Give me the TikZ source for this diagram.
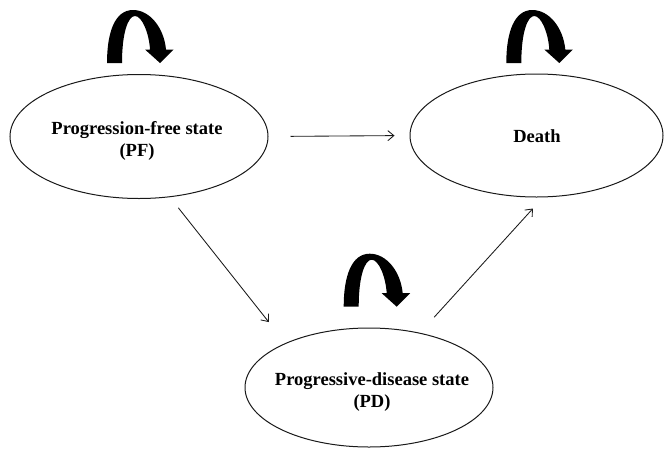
\documentclass[tikz,border=0pt]{standalone}
\usepackage{fontspec}
\setmainfont{Liberation Serif}
\usetikzlibrary{shapes.geometric,arrows.meta}
\begin{document}
\begin{tikzpicture}[x=1pt,y=-1pt,
  state/.style={draw=black!90,line width=1pt,ellipse,inner sep=0pt},
  txt/.style={font=\fontsize{18.5}{22}\selectfont\bfseries,align=center,inner sep=0pt},
  conn/.style={-{Straight Barb[length=6pt,width=10pt]},line width=0.85pt,draw=black!90},
  selfloop/.pic={\fill[black] (-53,0) .. controls (-53,-31) and (-45,-53) .. (-27,-53)
      .. controls (-10,-53) and (4,-35) .. (6,-13.5) -- (13.5,-13.5) -- (0,0) -- (-15,-13.5) -- (-10,-13.5)
      .. controls (-11,-30) and (-18,-47) .. (-25,-47)
      .. controls (-32,-47) and (-38,-30) .. (-38,0) -- cycle;}
]
\useasboundingbox (0,0) rectangle (664,450);
\node[state,minimum width=258pt,minimum height=124pt] (PF) at (139,136.5) {};
\node[state,minimum width=253pt,minimum height=123pt] (D) at (536.5,135.5) {};
\node[state,minimum width=248pt,minimum height=119pt] (PD) at (369,387.5) {};
\node[txt] (PFt) at (137,141) {Progression-free state\\(PF)};
\node[txt] (Dt) at (537,136) {Death};
\node[txt] (PDt) at (372,392) {Progressive-disease state\\(PD)};
\draw[conn,shorten <=22pt,shorten >=15pt] (PF.east) -- (D.west);
\draw[conn,shorten <=13.6pt,shorten >=26.8pt] (PF.-63) -- (PD.152.5);
\draw[conn,shorten <=21pt,shorten >=15pt] (PD.47.6) -- (D.-84);
\pic at (160,63) {selfloop};
\pic at (559.3,63) {selfloop};
\pic at (396.7,306.7) {selfloop};
\end{tikzpicture}
\end{document}
